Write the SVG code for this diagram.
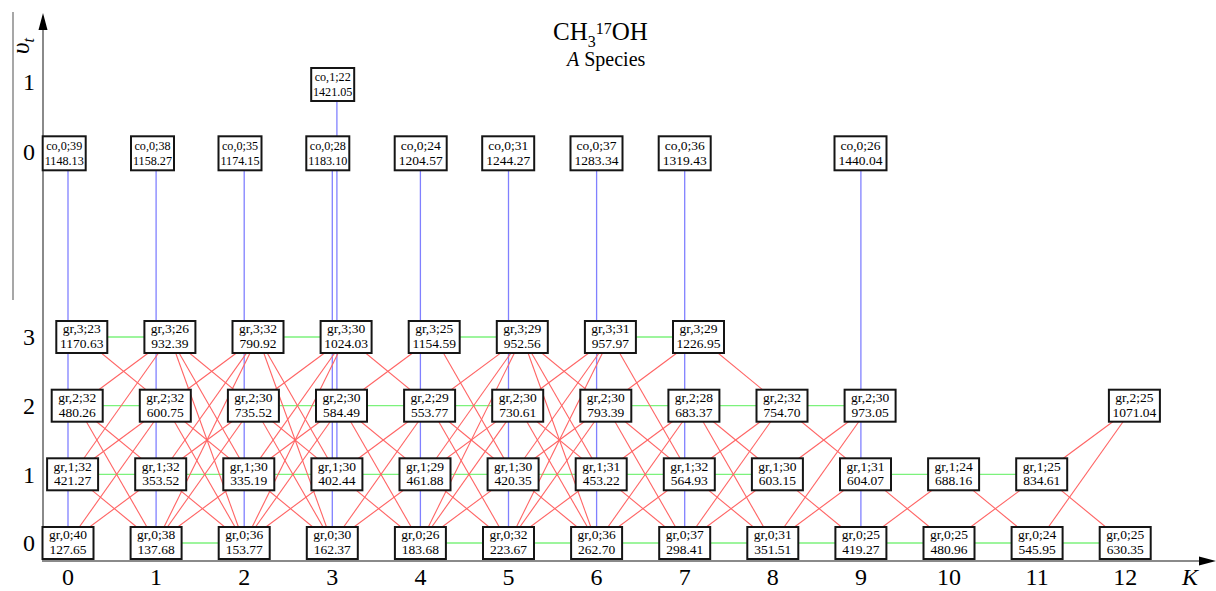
<svg xmlns="http://www.w3.org/2000/svg" width="1216" height="591" viewBox="0 0 1216 591">
<style>
.node rect{fill:#fff;stroke:#151515;stroke-width:2}
.node text{font-family:"Liberation Serif",serif;font-size:13.5px;text-anchor:middle;fill:#000}
.lab{font-family:"Liberation Serif",serif;font-size:24px;text-anchor:middle;fill:#000}
.red line{stroke:#ff6464;stroke-width:1.1}
.green line{stroke:#7cf27c;stroke-width:1.3}
.blue line{stroke:#8080ff;stroke-width:1.3}
.axis{stroke:#8a8a8a;stroke-width:2;fill:none}
</style>
<rect width="1216" height="591" fill="#fff"/>
<g id="axes">
<line class="axis" x1="13" y1="12" x2="13" y2="300" style="stroke-width:1.5"/>
<line class="axis" x1="43" y1="28" x2="43" y2="561"/>
<line class="axis" x1="42" y1="561" x2="1202" y2="561"/>
<polygon points="43,13 38.5,30 47.5,30" fill="#000"/>
<polygon points="1216,561 1199,556.5 1199,565.5" fill="#000"/>
</g>
<g id="labels">
<text transform="translate(29,54) rotate(-90)" font-family="Liberation Serif,serif" font-size="25" font-style="italic">υ<tspan font-size="16" dy="5">t</tspan></text>
<text class="lab" x="29" y="90">1</text>
<text class="lab" x="29" y="160">0</text>
<text class="lab" x="29" y="345">3</text>
<text class="lab" x="29" y="414">2</text>
<text class="lab" x="29" y="483">1</text>
<text class="lab" x="29" y="551">0</text>
<text class="lab" x="68" y="585">0</text>
<text class="lab" x="156.1" y="585">1</text>
<text class="lab" x="244.2" y="585">2</text>
<text class="lab" x="332.3" y="585">3</text>
<text class="lab" x="420.4" y="585">4</text>
<text class="lab" x="508.5" y="585">5</text>
<text class="lab" x="596.6" y="585">6</text>
<text class="lab" x="684.7" y="585">7</text>
<text class="lab" x="772.8" y="585">8</text>
<text class="lab" x="860.9" y="585">9</text>
<text class="lab" x="949" y="585">10</text>
<text class="lab" x="1037.1" y="585">11</text>
<text class="lab" x="1125.2" y="585">12</text>
<text class="lab" x="1190" y="585" font-style="italic">K</text>
<text x="553" y="40" font-family="Liberation Serif,serif" font-size="25">CH<tspan font-size="16" dy="7">3</tspan><tspan font-size="16" dy="-13">17</tspan><tspan dy="6">OH</tspan></text>
<text x="567" y="66" font-family="Liberation Serif,serif" font-size="20"><tspan font-style="italic">A</tspan> Species</text>
</g>
<g id="connectors">
<g class="blue">
<line x1="68" y1="153" x2="68" y2="543"/>
<line x1="156.1" y1="153" x2="156.1" y2="543"/>
<line x1="244.2" y1="153" x2="244.2" y2="543"/>
<line x1="332.3" y1="153" x2="332.3" y2="543"/>
<line x1="336.9" y1="84" x2="336.9" y2="474.3"/>
<line x1="420.4" y1="153" x2="420.4" y2="543"/>
<line x1="508.5" y1="153" x2="508.5" y2="543"/>
<line x1="596.6" y1="153" x2="596.6" y2="543"/>
<line x1="684.7" y1="153" x2="684.7" y2="543"/>
<line x1="860.9" y1="153" x2="860.9" y2="543"/>
</g>
<g class="green">
<line x1="81.8" y1="337" x2="169.9" y2="337"/>
<line x1="258" y1="337" x2="346.1" y2="337"/>
<line x1="434.2" y1="337" x2="522.3" y2="337"/>
<line x1="610.4" y1="337" x2="698.5" y2="337"/>
<line x1="77.2" y1="405.7" x2="165.3" y2="405.7"/>
<line x1="253.4" y1="405.7" x2="517.7" y2="405.7"/>
<line x1="605.8" y1="405.7" x2="870.1" y2="405.7"/>
<line x1="72.6" y1="474.3" x2="777.4" y2="474.3"/>
<line x1="865.5" y1="474.3" x2="1041.7" y2="474.3"/>
<line x1="156.1" y1="543" x2="244.2" y2="543"/>
<line x1="420.4" y1="543" x2="1125.2" y2="543"/>
</g>
<g class="red">
<line x1="81.8" y1="337" x2="165.3" y2="405.7"/>
<line x1="169.9" y1="337" x2="77.2" y2="405.7"/>
<line x1="169.9" y1="337" x2="72.6" y2="474.3"/>
<line x1="77.2" y1="405.7" x2="160.7" y2="474.3"/>
<line x1="77.2" y1="405.7" x2="156.1" y2="543"/>
<line x1="165.3" y1="405.7" x2="72.6" y2="474.3"/>
<line x1="165.3" y1="405.7" x2="68" y2="543"/>
<line x1="72.6" y1="474.3" x2="156.1" y2="543"/>
<line x1="160.7" y1="474.3" x2="68" y2="543"/>

<line x1="169.9" y1="337" x2="253.4" y2="405.7"/>
<line x1="169.9" y1="337" x2="248.8" y2="474.3"/>
<line x1="169.9" y1="337" x2="244.2" y2="543"/>
<line x1="258" y1="337" x2="165.3" y2="405.7"/>
<line x1="258" y1="337" x2="160.7" y2="474.3"/>
<line x1="258" y1="337" x2="156.1" y2="543"/>
<line x1="165.3" y1="405.7" x2="248.8" y2="474.3"/>
<line x1="165.3" y1="405.7" x2="244.2" y2="543"/>
<line x1="253.4" y1="405.7" x2="160.7" y2="474.3"/>
<line x1="253.4" y1="405.7" x2="156.1" y2="543"/>
<line x1="160.7" y1="474.3" x2="244.2" y2="543"/>
<line x1="248.8" y1="474.3" x2="156.1" y2="543"/>

<line x1="258" y1="337" x2="336.9" y2="474.3"/>
<line x1="258" y1="337" x2="332.3" y2="543"/>
<line x1="346.1" y1="337" x2="253.4" y2="405.7"/>
<line x1="346.1" y1="337" x2="248.8" y2="474.3"/>
<line x1="346.1" y1="337" x2="244.2" y2="543"/>
<line x1="253.4" y1="405.7" x2="336.9" y2="474.3"/>
<line x1="253.4" y1="405.7" x2="332.3" y2="543"/>
<line x1="341.5" y1="405.7" x2="248.8" y2="474.3"/>
<line x1="341.5" y1="405.7" x2="244.2" y2="543"/>
<line x1="248.8" y1="474.3" x2="332.3" y2="543"/>
<line x1="336.9" y1="474.3" x2="244.2" y2="543"/>

<line x1="346.1" y1="337" x2="429.6" y2="405.7"/>
<line x1="434.2" y1="337" x2="341.5" y2="405.7"/>
<line x1="341.5" y1="405.7" x2="425" y2="474.3"/>
<line x1="341.5" y1="405.7" x2="420.4" y2="543"/>
<line x1="429.6" y1="405.7" x2="336.9" y2="474.3"/>
<line x1="429.6" y1="405.7" x2="332.3" y2="543"/>
<line x1="336.9" y1="474.3" x2="420.4" y2="543"/>
<line x1="425" y1="474.3" x2="332.3" y2="543"/>

<line x1="434.2" y1="337" x2="513.1" y2="474.3"/>
<line x1="522.3" y1="337" x2="429.6" y2="405.7"/>
<line x1="522.3" y1="337" x2="425" y2="474.3"/>
<line x1="522.3" y1="337" x2="420.4" y2="543"/>
<line x1="429.6" y1="405.7" x2="513.1" y2="474.3"/>
<line x1="429.6" y1="405.7" x2="508.5" y2="543"/>
<line x1="517.7" y1="405.7" x2="425" y2="474.3"/>
<line x1="517.7" y1="405.7" x2="420.4" y2="543"/>
<line x1="425" y1="474.3" x2="508.5" y2="543"/>
<line x1="513.1" y1="474.3" x2="420.4" y2="543"/>

<line x1="522.3" y1="337" x2="605.8" y2="405.7"/>
<line x1="522.3" y1="337" x2="601.2" y2="474.3"/>
<line x1="522.3" y1="337" x2="596.6" y2="543"/>
<line x1="610.4" y1="337" x2="517.7" y2="405.7"/>
<line x1="610.4" y1="337" x2="513.1" y2="474.3"/>
<line x1="610.4" y1="337" x2="508.5" y2="543"/>
<line x1="517.7" y1="405.7" x2="601.2" y2="474.3"/>
<line x1="517.7" y1="405.7" x2="596.6" y2="543"/>
<line x1="605.8" y1="405.7" x2="513.1" y2="474.3"/>
<line x1="605.8" y1="405.7" x2="508.5" y2="543"/>
<line x1="513.1" y1="474.3" x2="596.6" y2="543"/>
<line x1="601.2" y1="474.3" x2="508.5" y2="543"/>

<line x1="610.4" y1="337" x2="689.3" y2="474.3"/>
<line x1="698.5" y1="337" x2="605.8" y2="405.7"/>
<line x1="605.8" y1="405.7" x2="689.3" y2="474.3"/>
<line x1="605.8" y1="405.7" x2="684.7" y2="543"/>
<line x1="693.9" y1="405.7" x2="601.2" y2="474.3"/>
<line x1="693.9" y1="405.7" x2="596.6" y2="543"/>
<line x1="601.2" y1="474.3" x2="684.7" y2="543"/>
<line x1="689.3" y1="474.3" x2="596.6" y2="543"/>

<line x1="698.5" y1="337" x2="782" y2="405.7"/>
<line x1="693.9" y1="405.7" x2="777.4" y2="474.3"/>
<line x1="693.9" y1="405.7" x2="772.8" y2="543"/>
<line x1="782" y1="405.7" x2="689.3" y2="474.3"/>
<line x1="782" y1="405.7" x2="684.7" y2="543"/>
<line x1="689.3" y1="474.3" x2="772.8" y2="543"/>
<line x1="777.4" y1="474.3" x2="684.7" y2="543"/>

<line x1="782" y1="405.7" x2="865.5" y2="474.3"/>
<line x1="870.1" y1="405.7" x2="777.4" y2="474.3"/>
<line x1="870.1" y1="405.7" x2="772.8" y2="543"/>
<line x1="777.4" y1="474.3" x2="860.9" y2="543"/>
<line x1="772.8" y1="543" x2="865.5" y2="474.3"/>

<line x1="865.5" y1="474.3" x2="949" y2="543"/>
<line x1="860.9" y1="543" x2="953.6" y2="474.3"/>
<line x1="953.6" y1="474.3" x2="1037.1" y2="543"/>
<line x1="949" y1="543" x2="1041.7" y2="474.3"/>
<line x1="1041.7" y1="474.3" x2="1125.2" y2="543"/>
<line x1="1037.1" y1="543" x2="1134.4" y2="405.7"/>
<line x1="1041.7" y1="474.3" x2="1134.4" y2="405.7"/>
</g>
</g>
<g id="nodes">
<g id="co-0-39" class="node" transform="translate(64.2,153.3)"><rect x="-21.5" y="-17" width="43" height="34"/><text transform="scale(0.9,1)"><tspan x="0" y="-3.3">co,0;39</tspan><tspan x="0" y="11.4">1148.13</tspan></text></g>
<g id="co-0-38" class="node" transform="translate(152.5,153.3)"><rect x="-21.5" y="-17" width="43" height="34"/><text transform="scale(0.9,1)"><tspan x="0" y="-3.3">co,0;38</tspan><tspan x="0" y="11.4">1158.27</tspan></text></g>
<g id="co-0-35" class="node" transform="translate(240,153.3)"><rect x="-21.5" y="-17" width="43" height="34"/><text transform="scale(0.9,1)"><tspan x="0" y="-3.3">co,0;35</tspan><tspan x="0" y="11.4">1174.15</tspan></text></g>
<g id="co-0-28" class="node" transform="translate(327.8,153.3)"><rect x="-21.5" y="-17" width="43" height="34"/><text transform="scale(0.9,1)"><tspan x="0" y="-3.3">co,0;28</tspan><tspan x="0" y="11.4">1183.10</tspan></text></g>
<g id="co-1-22" class="node" transform="translate(332.7,84.5)"><rect x="-21.5" y="-16.5" width="43" height="33"/><text transform="scale(0.9,1)"><tspan x="0" y="-3.3">co,1;22</tspan><tspan x="0" y="11.2">1421.05</tspan></text></g>
<g id="co-0-24" class="node" transform="translate(420.7,153.3)"><rect x="-26" y="-17" width="52" height="34"/><text><tspan x="0" y="-3.3">co,0;24</tspan><tspan x="0" y="11.4">1204.57</tspan></text></g>
<g id="co-0-31" class="node" transform="translate(508.2,153.3)"><rect x="-26" y="-17" width="52" height="34"/><text><tspan x="0" y="-3.3">co,0;31</tspan><tspan x="0" y="11.4">1244.27</tspan></text></g>
<g id="co-0-37" class="node" transform="translate(596.5,153.3)"><rect x="-26" y="-17" width="52" height="34"/><text><tspan x="0" y="-3.3">co,0;37</tspan><tspan x="0" y="11.4">1283.34</tspan></text></g>
<g id="co-0-36" class="node" transform="translate(684.7,153.3)"><rect x="-26" y="-17" width="52" height="34"/><text><tspan x="0" y="-3.3">co,0;36</tspan><tspan x="0" y="11.4">1319.43</tspan></text></g>
<g id="co-0-26" class="node" transform="translate(860.5,153.3)"><rect x="-26" y="-17" width="52" height="34"/><text><tspan x="0" y="-3.3">co,0;26</tspan><tspan x="0" y="11.4">1440.04</tspan></text></g>

<g id="gr3-k0" class="node" transform="translate(81.8,337)"><rect x="-25.5" y="-16" width="51" height="32"/><text><tspan x="0" y="-3.6">gr,3;23</tspan><tspan x="0" y="11">1170.63</tspan></text></g>
<g id="gr3-k1" class="node" transform="translate(169.9,337)"><rect x="-25.5" y="-16" width="51" height="32"/><text><tspan x="0" y="-3.6">gr,3;26</tspan><tspan x="0" y="11">932.39</tspan></text></g>
<g id="gr3-k2" class="node" transform="translate(258,337)"><rect x="-25.5" y="-16" width="51" height="32"/><text><tspan x="0" y="-3.6">gr,3;32</tspan><tspan x="0" y="11">790.92</tspan></text></g>
<g id="gr3-k3" class="node" transform="translate(346.1,337)"><rect x="-25.5" y="-16" width="51" height="32"/><text><tspan x="0" y="-3.6">gr,3;30</tspan><tspan x="0" y="11">1024.03</tspan></text></g>
<g id="gr3-k4" class="node" transform="translate(434.2,337)"><rect x="-25.5" y="-16" width="51" height="32"/><text><tspan x="0" y="-3.6">gr,3;25</tspan><tspan x="0" y="11">1154.59</tspan></text></g>
<g id="gr3-k5" class="node" transform="translate(522.3,337)"><rect x="-25.5" y="-16" width="51" height="32"/><text><tspan x="0" y="-3.6">gr,3;29</tspan><tspan x="0" y="11">952.56</tspan></text></g>
<g id="gr3-k6" class="node" transform="translate(610.4,337)"><rect x="-25.5" y="-16" width="51" height="32"/><text><tspan x="0" y="-3.6">gr,3;31</tspan><tspan x="0" y="11">957.97</tspan></text></g>
<g id="gr3-k7" class="node" transform="translate(698.5,337)"><rect x="-25.5" y="-16" width="51" height="32"/><text><tspan x="0" y="-3.6">gr,3;29</tspan><tspan x="0" y="11">1226.95</tspan></text></g>

<g id="gr2-k0" class="node" transform="translate(77.2,405.7)"><rect x="-25.5" y="-16" width="51" height="32"/><text><tspan x="0" y="-3.6">gr,2;32</tspan><tspan x="0" y="11">480.26</tspan></text></g>
<g id="gr2-k1" class="node" transform="translate(165.3,405.7)"><rect x="-25.5" y="-16" width="51" height="32"/><text><tspan x="0" y="-3.6">gr,2;32</tspan><tspan x="0" y="11">600.75</tspan></text></g>
<g id="gr2-k2" class="node" transform="translate(253.4,405.7)"><rect x="-25.5" y="-16" width="51" height="32"/><text><tspan x="0" y="-3.6">gr,2;30</tspan><tspan x="0" y="11">735.52</tspan></text></g>
<g id="gr2-k3" class="node" transform="translate(341.5,405.7)"><rect x="-25.5" y="-16" width="51" height="32"/><text><tspan x="0" y="-3.6">gr,2;30</tspan><tspan x="0" y="11">584.49</tspan></text></g>
<g id="gr2-k4" class="node" transform="translate(429.6,405.7)"><rect x="-25.5" y="-16" width="51" height="32"/><text><tspan x="0" y="-3.6">gr,2;29</tspan><tspan x="0" y="11">553.77</tspan></text></g>
<g id="gr2-k5" class="node" transform="translate(517.7,405.7)"><rect x="-25.5" y="-16" width="51" height="32"/><text><tspan x="0" y="-3.6">gr,2;30</tspan><tspan x="0" y="11">730.61</tspan></text></g>
<g id="gr2-k6" class="node" transform="translate(605.8,405.7)"><rect x="-25.5" y="-16" width="51" height="32"/><text><tspan x="0" y="-3.6">gr,2;30</tspan><tspan x="0" y="11">793.39</tspan></text></g>
<g id="gr2-k7" class="node" transform="translate(693.9,405.7)"><rect x="-25.5" y="-16" width="51" height="32"/><text><tspan x="0" y="-3.6">gr,2;28</tspan><tspan x="0" y="11">683.37</tspan></text></g>
<g id="gr2-k8" class="node" transform="translate(782,405.7)"><rect x="-25.5" y="-16" width="51" height="32"/><text><tspan x="0" y="-3.6">gr,2;32</tspan><tspan x="0" y="11">754.70</tspan></text></g>
<g id="gr2-k9" class="node" transform="translate(870.1,405.7)"><rect x="-25.5" y="-16" width="51" height="32"/><text><tspan x="0" y="-3.6">gr,2;30</tspan><tspan x="0" y="11">973.05</tspan></text></g>
<g id="gr2-k12" class="node" transform="translate(1134.4,405.7)"><rect x="-25.5" y="-16" width="51" height="32"/><text><tspan x="0" y="-3.6">gr,2;25</tspan><tspan x="0" y="11">1071.04</tspan></text></g>

<g id="gr1-k0" class="node" transform="translate(72.6,474.3)"><rect x="-25.5" y="-16" width="51" height="32"/><text><tspan x="0" y="-3.6">gr,1;32</tspan><tspan x="0" y="11">421.27</tspan></text></g>
<g id="gr1-k1" class="node" transform="translate(160.7,474.3)"><rect x="-25.5" y="-16" width="51" height="32"/><text><tspan x="0" y="-3.6">gr,1;32</tspan><tspan x="0" y="11">353.52</tspan></text></g>
<g id="gr1-k2" class="node" transform="translate(248.8,474.3)"><rect x="-25.5" y="-16" width="51" height="32"/><text><tspan x="0" y="-3.6">gr,1;30</tspan><tspan x="0" y="11">335.19</tspan></text></g>
<g id="gr1-k3" class="node" transform="translate(336.9,474.3)"><rect x="-25.5" y="-16" width="51" height="32"/><text><tspan x="0" y="-3.6">gr,1;30</tspan><tspan x="0" y="11">402.44</tspan></text></g>
<g id="gr1-k4" class="node" transform="translate(425,474.3)"><rect x="-25.5" y="-16" width="51" height="32"/><text><tspan x="0" y="-3.6">gr,1;29</tspan><tspan x="0" y="11">461.88</tspan></text></g>
<g id="gr1-k5" class="node" transform="translate(513.1,474.3)"><rect x="-25.5" y="-16" width="51" height="32"/><text><tspan x="0" y="-3.6">gr,1;30</tspan><tspan x="0" y="11">420.35</tspan></text></g>
<g id="gr1-k6" class="node" transform="translate(601.2,474.3)"><rect x="-25.5" y="-16" width="51" height="32"/><text><tspan x="0" y="-3.6">gr,1;31</tspan><tspan x="0" y="11">453.22</tspan></text></g>
<g id="gr1-k7" class="node" transform="translate(689.3,474.3)"><rect x="-25.5" y="-16" width="51" height="32"/><text><tspan x="0" y="-3.6">gr,1;32</tspan><tspan x="0" y="11">564.93</tspan></text></g>
<g id="gr1-k8" class="node" transform="translate(777.4,474.3)"><rect x="-25.5" y="-16" width="51" height="32"/><text><tspan x="0" y="-3.6">gr,1;30</tspan><tspan x="0" y="11">603.15</tspan></text></g>
<g id="gr1-k9" class="node" transform="translate(865.5,474.3)"><rect x="-25.5" y="-16" width="51" height="32"/><text><tspan x="0" y="-3.6">gr,1;31</tspan><tspan x="0" y="11">604.07</tspan></text></g>
<g id="gr1-k10" class="node" transform="translate(953.6,474.3)"><rect x="-25.5" y="-16" width="51" height="32"/><text><tspan x="0" y="-3.6">gr,1;24</tspan><tspan x="0" y="11">688.16</tspan></text></g>
<g id="gr1-k11" class="node" transform="translate(1041.7,474.3)"><rect x="-25.5" y="-16" width="51" height="32"/><text><tspan x="0" y="-3.6">gr,1;25</tspan><tspan x="0" y="11">834.61</tspan></text></g>

<g id="gr0-k0" class="node" transform="translate(68,543)"><rect x="-25.5" y="-16" width="51" height="32"/><text><tspan x="0" y="-3.6">gr,0;40</tspan><tspan x="0" y="11">127.65</tspan></text></g>
<g id="gr0-k1" class="node" transform="translate(156.1,543)"><rect x="-25.5" y="-16" width="51" height="32"/><text><tspan x="0" y="-3.6">gr,0;38</tspan><tspan x="0" y="11">137.68</tspan></text></g>
<g id="gr0-k2" class="node" transform="translate(244.2,543)"><rect x="-25.5" y="-16" width="51" height="32"/><text><tspan x="0" y="-3.6">gr,0;36</tspan><tspan x="0" y="11">153.77</tspan></text></g>
<g id="gr0-k3" class="node" transform="translate(332.3,543)"><rect x="-25.5" y="-16" width="51" height="32"/><text><tspan x="0" y="-3.6">gr,0;30</tspan><tspan x="0" y="11">162.37</tspan></text></g>
<g id="gr0-k4" class="node" transform="translate(420.4,543)"><rect x="-25.5" y="-16" width="51" height="32"/><text><tspan x="0" y="-3.6">gr,0;26</tspan><tspan x="0" y="11">183.68</tspan></text></g>
<g id="gr0-k5" class="node" transform="translate(508.5,543)"><rect x="-25.5" y="-16" width="51" height="32"/><text><tspan x="0" y="-3.6">gr,0;32</tspan><tspan x="0" y="11">223.67</tspan></text></g>
<g id="gr0-k6" class="node" transform="translate(596.6,543)"><rect x="-25.5" y="-16" width="51" height="32"/><text><tspan x="0" y="-3.6">gr,0;36</tspan><tspan x="0" y="11">262.70</tspan></text></g>
<g id="gr0-k7" class="node" transform="translate(684.7,543)"><rect x="-25.5" y="-16" width="51" height="32"/><text><tspan x="0" y="-3.6">gr,0;37</tspan><tspan x="0" y="11">298.41</tspan></text></g>
<g id="gr0-k8" class="node" transform="translate(772.8,543)"><rect x="-25.5" y="-16" width="51" height="32"/><text><tspan x="0" y="-3.6">gr,0;31</tspan><tspan x="0" y="11">351.51</tspan></text></g>
<g id="gr0-k9" class="node" transform="translate(860.9,543)"><rect x="-25.5" y="-16" width="51" height="32"/><text><tspan x="0" y="-3.6">gr,0;25</tspan><tspan x="0" y="11">419.27</tspan></text></g>
<g id="gr0-k10" class="node" transform="translate(949,543)"><rect x="-25.5" y="-16" width="51" height="32"/><text><tspan x="0" y="-3.6">gr,0;25</tspan><tspan x="0" y="11">480.96</tspan></text></g>
<g id="gr0-k11" class="node" transform="translate(1037.1,543)"><rect x="-25.5" y="-16" width="51" height="32"/><text><tspan x="0" y="-3.6">gr,0;24</tspan><tspan x="0" y="11">545.95</tspan></text></g>
<g id="gr0-k12" class="node" transform="translate(1125.2,543)"><rect x="-25.5" y="-16" width="51" height="32"/><text><tspan x="0" y="-3.6">gr,0;25</tspan><tspan x="0" y="11">630.35</tspan></text></g>
</g>
</svg>
